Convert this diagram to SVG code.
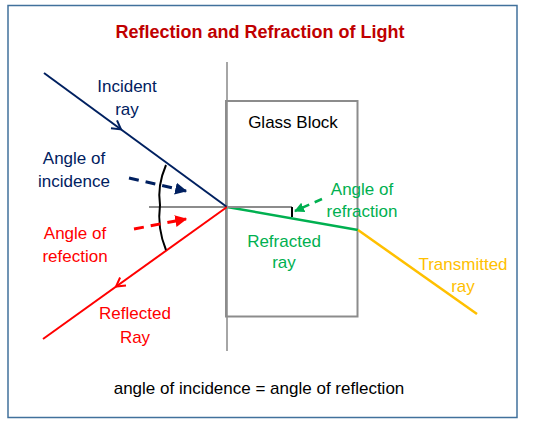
<svg xmlns="http://www.w3.org/2000/svg" width="533" height="424" viewBox="0 0 533 424">
<style>
text{font-family:"Liberation Sans",Arial,sans-serif;font-size:17px;text-anchor:middle}
.navy{fill:#002060}.red{fill:#FF0000}.green{fill:#00B050}.yellow{fill:#FFC000}
.gray{stroke:#8c8c8c;stroke-width:2;fill:none}
</style>
<defs>
<marker id="hNavy" viewBox="0 0 10 10" refX="9" refY="5" markerWidth="4" markerHeight="4" orient="auto"><path d="M0,0L10,5L0,10z" fill="#002060"/></marker>
<marker id="hRed" viewBox="0 0 10 10" refX="9" refY="5" markerWidth="4" markerHeight="4" orient="auto"><path d="M0,0L10,5L0,10z" fill="#FF0000"/></marker>
<marker id="hGreen" viewBox="0 0 10 10" refX="9" refY="5" markerWidth="4" markerHeight="4" orient="auto"><path d="M0,0L10,5L0,10z" fill="#00B050"/></marker>
</defs>
<rect x="8" y="5.5" width="509" height="412" fill="#fff" stroke="#41719C" stroke-width="1.5"/>
<text x="260" y="38" style="font-weight:bold;font-size:18px;fill:#C00000">Reflection and Refraction of Light</text>
<g id="normal">
<line x1="227" y1="62" x2="227" y2="351" stroke="#a6a6a6" stroke-width="2"/>
<line x1="149" y1="207" x2="227" y2="207" class="gray"/>
</g>
<g id="glass-block">
<rect x="226" y="101" width="131.5" height="215.5" class="gray"/>
<text x="293" y="128">Glass Block</text>
</g>
<g id="connectors">
<g id="incident-ray">
<line x1="44" y1="73" x2="227" y2="207" stroke="#002060" stroke-width="2"/>
<path d="M111,128.3 L121,129.4 L117,120.3" fill="none" stroke="#002060" stroke-width="2"/>
</g>
<g id="reflected-ray">
<line x1="227" y1="207" x2="43" y2="339" stroke="#FF0000" stroke-width="2"/>
<path d="M126,285.6 L116,286.6 L120.1,277.5" fill="none" stroke="#FF0000" stroke-width="2"/>
</g>
<g id="refracted-ray">
<line x1="227" y1="207" x2="358" y2="230" stroke="#00B050" stroke-width="2.5"/>
<line x1="227" y1="207" x2="292" y2="207" class="gray"/>
<line x1="292" y1="207" x2="292" y2="217" stroke="#000" stroke-width="2"/>
</g>
<line id="transmitted-ray" x1="358" y1="230" x2="477" y2="314" stroke="#FFC000" stroke-width="2.5"/>
<path id="angle-arc" d="M166,165 Q157,186 160,205 Q157,228 166,250" fill="none" stroke="#000" stroke-width="2"/>
<line x1="129" y1="178" x2="186" y2="191" stroke="#002060" stroke-width="3" stroke-dasharray="10,7" marker-end="url(#hNavy)"/>
<line x1="134" y1="229" x2="186" y2="219" stroke="#FF0000" stroke-width="3" stroke-dasharray="10,7" marker-end="url(#hRed)"/>
<line x1="322" y1="199" x2="295" y2="211" stroke="#00B050" stroke-width="2.5" stroke-dasharray="8,6" marker-end="url(#hGreen)"/>
</g>
<g id="labels">
<text class="navy" x="127" y="92">Incident</text>
<text class="navy" x="127" y="115">ray</text>
<text class="navy" x="74" y="164">Angle of</text>
<text class="navy" x="74" y="187">incidence</text>
<text class="red" x="75" y="239">Angle of</text>
<text class="red" x="75" y="262">refection</text>
<text class="red" x="135" y="319">Reflected</text>
<text class="red" x="135" y="343">Ray</text>
<text class="green" x="362" y="195">Angle of</text>
<text class="green" x="362" y="217">refraction</text>
<text class="green" x="284" y="247">Refracted</text>
<text class="green" x="284" y="268">ray</text>
<text class="yellow" x="463" y="270">Transmitted</text>
<text class="yellow" x="463" y="292">ray</text>
<text x="259" y="394" style="fill:#000">angle of incidence = angle of reflection</text>
</g>
</svg>
